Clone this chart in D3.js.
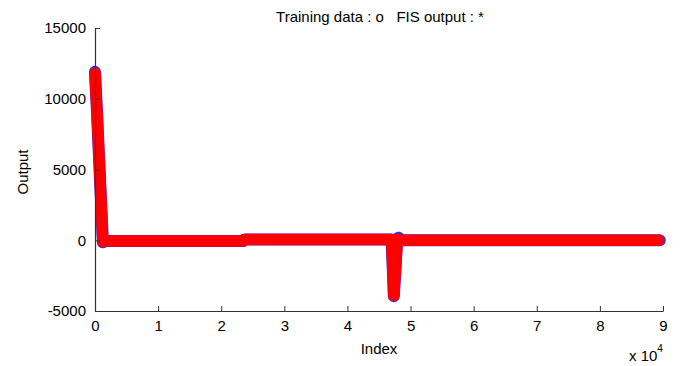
<!DOCTYPE html>
<html>
<head>
<meta charset="utf-8">
<script src="https://cdn.jsdelivr.net/npm/d3@7"></script>
<style>
  body { margin: 0; background: #fff; }
  svg text { font-family: "Liberation Sans", Arial, sans-serif; fill: #000; }
</style>
</head>
<body>
<div id="chart"></div>
<script>
// Training data (blue circles) and FIS output (red stars)
const trainIndex = [0, 300, 1250, 1600, 23500, 23700, 47000, 47350, 47900, 48100, 48400, 89500];
const trainValue = [11900, 9200, -150, -60, -60, 60, 60, -3950, 120, 180, 0, 0];
const fisIndex = [0, 300, 1250, 1600, 23500, 23700, 47000, 47350, 47900, 48400, 89300];
const fisValue = [11800, 9200, -100, -60, -60, 60, 60, -3900, 60, 0, 0];

const xTicks = [0, 1, 2, 3, 4, 5, 6, 7, 8, 9];
const yTicks = [-5000, 0, 5000, 10000, 15000];

const width = 680, height = 366;
const margin = { top: 28, right: 17, bottom: 55, left: 95 };

const svg = d3.select('#chart')
    .append('svg')
    .attr('width', width)
    .attr('height', height);

const x = d3.scaleLinear().domain([0, 90000]).range([margin.left, width - margin.right]);
const y = d3.scaleLinear().domain([-5000, 15000]).range([height - margin.bottom, margin.top]);

// series: thick stroked paths stand in for the dense marker bands
const line = d3.line().x(d => x(d[0])).y(d => y(d[1]));
const train = trainIndex.map((v, i) => [v, trainValue[i]]);
const fis = fisIndex.map((v, i) => [v, fisValue[i]]);

svg.append('path')
    .attr('d', line(train))
    .attr('fill', 'none')
    .attr('stroke', '#3030ff')
    .attr('stroke-width', 12)
    .attr('stroke-linejoin', 'round')
    .attr('stroke-linecap', 'round');

svg.append('path')
    .attr('d', line(fis))
    .attr('fill', 'none')
    .attr('stroke', '#ff0000')
    .attr('stroke-width', 11.5)
    .attr('stroke-linejoin', 'round')
    .attr('stroke-linecap', 'round');

// axes (MATLAB style, ticks pointing inward)
const xAxis = svg.append('g')
    .attr('transform', `translate(0,${y(-5000)})`)
    .call(d3.axisBottom(x).tickValues(xTicks.map(t => t * 10000))
        .tickFormat(d => d / 10000).tickSizeInner(-5).tickSizeOuter(0).tickPadding(9));

const yAxis = svg.append('g')
    .attr('transform', `translate(${x(0)},0)`)
    .call(d3.axisLeft(y).tickValues(yTicks).tickFormat(d => d)
        .tickSizeInner(-5).tickSizeOuter(0).tickPadding(9));

[xAxis, yAxis].forEach(a => {
    a.select('.domain').attr('stroke', '#333').attr('stroke-width', 1.2);
    a.selectAll('.tick line').attr('stroke', '#333');
    a.selectAll('.tick text').attr('font-size', 15).attr('fill', '#000')
        .attr('font-family', '"Liberation Sans", Arial, sans-serif');
});

// labels
svg.append('text')
    .attr('x', 380).attr('y', 22)
    .attr('text-anchor', 'middle')
    .attr('font-size', 15)
    .attr('xml:space', 'preserve')
    .text('Training data : o   FIS output : *');

svg.append('text')
    .attr('x', 379).attr('y', 354)
    .attr('text-anchor', 'middle')
    .attr('font-size', 15)
    .text('Index');

svg.append('text')
    .attr('transform', 'translate(28,172) rotate(-90)')
    .attr('text-anchor', 'middle')
    .attr('font-size', 15)
    .text('Output');

const mult = svg.append('text')
    .attr('x', 629).attr('y', 361)
    .attr('font-size', 15);
mult.append('tspan').text('x 10');
mult.append('tspan').attr('font-size', 10).attr('dy', -9).text('4');
</script>
</body>
</html>
